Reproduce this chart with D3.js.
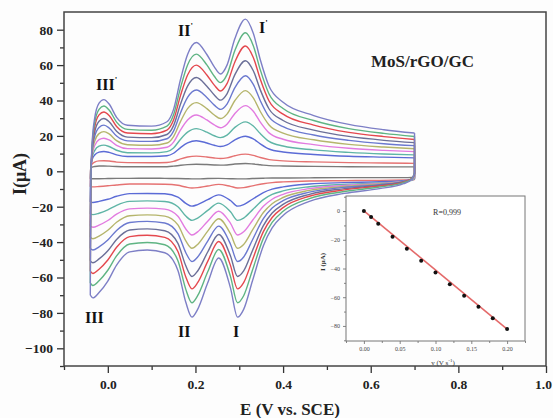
<!DOCTYPE html>
<html>
<head>
<meta charset="utf-8">
<title>MoS/rGO/GC cyclic voltammograms</title>
<script src="https://d3js.org/d3.v7.min.js"></script>
<style>
    body { margin: 0; background: #fff; }
    svg text { font-family: "Liberation Serif", "Times New Roman", serif; }
</style>
</head>
<body>
<div id="chart"></div>
<script>
    var cathodicE = [0.700, 0.694, 0.675, 0.620, 0.540, 0.460, 0.400, 0.375, 0.355, 0.330, 0.310, 0.296, 0.280,
        0.253, 0.228, 0.205, 0.192, 0.178, 0.160, 0.130, 0.090, 0.050, 0.020, 0.000, -0.020, -0.034, -0.040];
    var anodicE = [-0.039, -0.036, -0.030, -0.020, -0.009, 0.003, 0.020, 0.045, 0.100, 0.135, 0.150, 0.166, 0.182,
        0.202, 0.226, 0.243, 0.257, 0.272, 0.290, 0.314, 0.332, 0.348, 0.368, 0.400, 0.470, 0.550, 0.630, 0.700];

    // Current (uA), outermost (fastest scan) first
    var cath1 = [-1, -4.5, -7, -9.8, -12.5, -17, -25, -32, -42, -62, -78, -82.4, -66, -49, -63, -78, -82.4, -74, -56, -46, -44.5, -45.5, -53, -62, -68.5, -71.5, -70];
    var cath2 = [-1, -4.2, -6.4, -8.9, -11.4, -15.4, -22.6, -28.9, -37.9, -55.9, -70.3, -74.3, -59.5, -44.2, -56.8, -70.3, -74.3, -66.7, -50.5, -41.5, -40.2, -41.1, -47.8, -55.9, -61.8, -64.5, -63.1];
    var cath3 = [-1.3, -4.1, -6.1, -8.3, -10.5, -14.1, -20.5, -26.1, -34.1, -50.1, -62.9, -66.4, -53.3, -39.7, -50.9, -62.9, -66.4, -59.7, -45.3, -37.3, -36.1, -36.9, -42.9, -50.1, -55.3, -57.7, -56.5];
    var cath4 = [-1.6, -4.1, -5.9, -7.9, -9.8, -13, -18.7, -23.6, -30.7, -44.9, -56.3, -59.4, -47.8, -35.7, -45.6, -56.3, -59.4, -53.4, -40.7, -33.6, -32.5, -33.2, -38.5, -44.9, -49.5, -51.7, -50.6];
    var cath5 = [-2.2, -4.3, -5.8, -7.5, -9.1, -11.8, -16.6, -20.8, -26.8, -38.8, -48.4, -51, -41.2, -31, -39.4, -48.4, -51, -46, -35.2, -29.2, -28.3, -28.9, -33.4, -38.8, -42.7, -44.5, -43.6];
    var cath6 = [-2.8, -4.6, -5.8, -7.2, -8.6, -10.8, -14.8, -18.3, -23.3, -33.3, -41.3, -43.5, -35.3, -26.8, -33.8, -41.3, -43.5, -39.3, -30.3, -25.3, -24.6, -25.1, -28.8, -33.3, -36.6, -38.1, -37.3];
    var cath7 = [-3.4, -4.8, -5.8, -6.9, -8, -9.8, -13, -15.8, -19.8, -27.8, -34.2, -36, -29.4, -22.6, -28.2, -34.2, -36, -32.6, -25.4, -21.4, -20.8, -21.2, -24.2, -27.8, -30.4, -31.6, -31];
    var cath8 = [-4.1, -5.1, -5.8, -6.6, -7.4, -8.7, -11.1, -13.1, -16, -21.8, -26.4, -27.7, -22.9, -18, -22.1, -26.4, -27.7, -25.3, -20, -17.1, -16.7, -17, -19.2, -21.8, -23.7, -24.5, -24.1];
    var cath9 = [-4.2, -4.9, -5.3, -5.9, -6.4, -7.2, -8.8, -10.1, -12, -15.8, -18.8, -19.7, -16.5, -13.3, -16, -18.8, -19.7, -18.1, -14.6, -12.7, -12.5, -12.6, -14.1, -15.8, -17, -17.6, -17.3];
    var cath10 = [-4.6, -4.8, -4.9, -5.1, -5.3, -5.5, -6, -6.4, -7, -8.2, -9.2, -9.4, -8.5, -7.4, -8.3, -9.2, -9.4, -8.9, -7.9, -7.3, -7.2, -7.2, -7.7, -8.2, -8.6, -8.8, -8.7];
    var cath11 = [-3.5, -3.5, -3.6, -3.6, -3.6, -3.7, -3.8, -3.8, -3.9, -4.1, -4.3, -4.3, -4.2, -4, -4.1, -4.3, -4.3, -4.2, -4.1, -4, -3.9, -4, -4, -4.1, -4.2, -4.2, -4.2];

    var anod1 = [-10, 15, 30, 38.5, 40.5, 38, 30.5, 26, 25.5, 28, 35, 52, 66, 72.8, 66, 59, 55, 60, 75, 86, 78, 63, 48, 39, 31.5, 26.5, 23.5, 21.6];
    var anod2 = [-9.1, 13.7, 27.3, 35, 36.9, 34.6, 27.8, 23.7, 23.2, 25.5, 31.9, 47.3, 60.1, 66.2, 60.1, 53.7, 50.1, 54.6, 68.3, 78.3, 71, 57.3, 43.7, 35.5, 28.7, 24.1, 21.4, 19.7];
    var anod3 = [-7.9, 12.6, 24.9, 31.9, 33.5, 31.5, 25.3, 21.6, 21.2, 23.3, 29, 42.9, 54.4, 60, 54.4, 48.7, 45.4, 49.5, 61.8, 70.8, 64.3, 52, 39.7, 32.3, 26.1, 22, 19.6, 18];
    var anod4 = [-6.6, 11.4, 22.2, 28.3, 29.8, 28, 22.6, 19.3, 19, 20.8, 25.8, 38, 48.1, 53, 48.1, 43.1, 40.2, 43.8, 54.6, 62.5, 56.8, 46, 35.2, 28.7, 23.3, 19.7, 17.5, 16.2];
    var anod5 = [-4.9, 10.4, 19.6, 24.8, 26.1, 24.5, 19.9, 17.2, 16.9, 18.4, 22.7, 33.1, 41.7, 45.9, 41.7, 37.4, 35, 38, 47.3, 54, 49.1, 39.9, 30.7, 25.2, 20.5, 17.5, 15.6, 14.5];
    var anod6 = [-3.4, 9.4, 17, 21.3, 22.4, 21.1, 17.3, 15, 14.7, 16, 19.6, 28.2, 35.4, 38.8, 35.4, 31.8, 29.8, 32.3, 40, 45.6, 41.5, 33.8, 26.2, 21.6, 17.8, 15.2, 13.7, 12.7];
    var anod7 = [-1.8, 8.4, 14.5, 17.9, 18.7, 17.7, 14.7, 12.8, 12.6, 13.6, 16.5, 23.4, 29, 31.8, 29, 26.2, 24.6, 26.6, 32.7, 37.1, 33.9, 27.8, 21.7, 18.1, 15.1, 13, 11.8, 11.1];
    var anod8 = [0.1, 7.4, 11.7, 14.2, 14.8, 14, 11.9, 10.5, 10.4, 11.1, 13.2, 18.1, 22.1, 24.1, 22.1, 20.1, 19, 20.4, 24.8, 27.9, 25.6, 21.3, 16.9, 14.3, 12.1, 10.7, 9.8, 9.3];
    var anod9 = [1.6, 6.4, 9.2, 10.8, 11.2, 10.7, 9.3, 8.4, 8.4, 8.8, 10.2, 13.4, 16, 17.3, 16, 14.7, 14, 14.9, 17.8, 19.8, 18.3, 15.5, 12.6, 10.9, 9.5, 8.5, 8, 7.6];
    var anod10 = [2, 4, 5.2, 5.9, 6, 5.8, 5.2, 4.9, 4.8, 5, 5.6, 7, 8.1, 8.6, 8.1, 7.5, 7.2, 7.6, 8.8, 9.7, 9, 7.8, 6.6, 5.9, 5.3, 4.9, 4.7, 4.5];
    var anod11 = [1.5, 2.3, 2.7, 3, 3, 2.9, 2.7, 2.6, 2.6, 2.6, 2.9, 3.4, 3.8, 4, 3.8, 3.6, 3.5, 3.6, 4.1, 4.4, 4.1, 3.7, 3.2, 3, 2.8, 2.6, 2.5, 2.5];

    var cathodicSeries = [cath1, cath2, cath3, cath4, cath5, cath6, cath7, cath8, cath9, cath10, cath11];
    var anodicSeries = [anod1, anod2, anod3, anod4, anod5, anod6, anod7, anod8, anod9, anod10, anod11];
    var curveColors = ['#7d7fc6', '#5fb483', '#e4484e', '#6b6f98', '#6b79cf', '#b5b56c',
        '#e27be0', '#5fb5a6', '#5b6bd6', '#e57272', '#7a7a7a'];

    // Inset: peak current vs scan rate
    var insetRate = [0, 0.01, 0.02, 0.04, 0.06, 0.08, 0.10, 0.12, 0.14, 0.16, 0.18, 0.20];
    var insetCurrent = [0, -4.2, -8.8, -17.9, -26.3, -34.6, -42.7, -51, -59, -66.7, -74.6, -82.2];
    var fitRate = [0, 0.20];
    var fitCurrent = [0.2, -82.3];

    var xTicks = [0.0, 0.2, 0.4, 0.6, 0.8, 1.0];
    var yTicks = [-100, -80, -60, -40, -20, 0, 20, 40, 60, 80];

    var margin = { top: 12, right: 7, bottom: 52, left: 64 };
    var width = 553 - margin.left - margin.right;
    var height = 418 - margin.top - margin.bottom;

    var svg = d3.select('#chart')
        .append('svg')
        .attr('width', 553)
        .attr('height', 418);

    svg.append('rect').attr('width', 553).attr('height', 418).attr('fill', '#fdfdfd');

    var g = svg.append('g')
        .attr('transform', 'translate(' + margin.left + ',' + margin.top + ')');

    var x = d3.scaleLinear().domain([-0.1, 1.0]).range([0, width]);
    var y = d3.scaleLinear().domain([-110, 90]).range([height, 0]);

    var line = d3.line()
        .x(function(d) { return x(d[0]); })
        .y(function(d) { return y(d[1]); })
        .curve(d3.curveMonotoneX);
    var straight = d3.line()
        .x(function(d) { return x(d[0]); })
        .y(function(d) { return y(d[1]); });

    // draw inner sweeps first so the big ones sit on top
    for (var i = cathodicSeries.length - 1; i >= 0; i--) {
        var cath = cathodicSeries[i], anod = anodicSeries[i];
        var n = cath.length;
        // cathodic sweep, reversed so x runs left to right
        var cathPts = cathodicE.map(function(e, j) { return [e, cath[j]]; }).reverse();
        // anodic sweep starts where the cathodic one stopped
        var anodPts = [[cathodicE[n - 1], cath[n - 1]]]
            .concat(anodicE.map(function(e, j) { return [e, anod[j]]; }));
        var turn = [[anodicE[anodicE.length - 1], anod[anod.length - 1]], [cathodicE[0], cath[0]]];

        var c = g.append('g')
            .attr('fill', 'none')
            .attr('stroke', curveColors[i])
            .attr('stroke-width', 1.4)
            .attr('stroke-linejoin', 'round');
        c.append('path').datum(cathPts).attr('d', line);
        c.append('path').datum(anodPts).attr('d', line);
        c.append('path').datum(turn).attr('d', straight);
    }

    // axes
    function styleAxis(sel) {
        sel.select('.domain').remove();
        sel.selectAll('line').attr('stroke', '#333').attr('stroke-width', 1.3);
        sel.selectAll('text')
            .attr('font-size', '13.5px')
            .attr('font-weight', 'bold')
            .attr('fill', '#222');
    }

    g.append('g')
        .attr('transform', 'translate(0,' + height + ')')
        .call(d3.axisBottom(x).tickValues([-0.1, 0.1, 0.3, 0.5, 0.7, 0.9]).tickSize(4).tickFormat(''))
        .call(styleAxis);

    var xAxis = g.append('g')
        .attr('transform', 'translate(0,' + height + ')')
        .call(d3.axisBottom(x).tickValues(xTicks).tickSize(7).tickPadding(6).tickFormat(d3.format('.1f')))
        .call(styleAxis);
    // keep the last label inside the picture
    xAxis.selectAll('.tick').filter(function(d) { return d === 1.0; })
        .select('text').attr('dx', -3);

    g.append('g')
        .call(d3.axisLeft(y).tickValues([-110, -90, -70, -50, -30, -10, 10, 30, 50, 70]).tickSize(4).tickFormat(''))
        .call(styleAxis);

    g.append('g')
        .call(d3.axisLeft(y).tickValues(yTicks).tickSize(7).tickPadding(4))
        .call(styleAxis);

    g.append('rect')
        .attr('width', width)
        .attr('height', height)
        .attr('fill', 'none')
        .attr('stroke', '#444')
        .attr('stroke-width', 1.5);

    // axis titles
    svg.append('text')
        .attr('transform', 'translate(26,174) rotate(-90)')
        .attr('text-anchor', 'middle')
        .attr('font-size', '18px')
        .attr('font-weight', 'bold')
        .attr('fill', '#222')
        .text('I(\u03bcA)');

    svg.append('text')
        .attr('x', 290)
        .attr('y', 415)
        .attr('text-anchor', 'middle')
        .attr('font-size', '17px')
        .attr('font-weight', 'bold')
        .attr('fill', '#222')
        .text('E (V vs. SCE)');

    // peak labels
    var peakLabels = [
        { t: 'III', p: true, x: 96, y: 90 },
        { t: 'II', p: true, x: 178, y: 36 },
        { t: 'I', p: true, x: 259, y: 33 },
        { t: 'III', p: false, x: 85, y: 323 },
        { t: 'II', p: false, x: 178, y: 337 },
        { t: 'I', p: false, x: 233, y: 337 }
    ];
    peakLabels.forEach(function(d) {
        var t = svg.append('text')
            .attr('x', d.x)
            .attr('y', d.y)
            .attr('font-size', '16px')
            .attr('font-weight', 'bold')
            .attr('fill', '#111')
            .text(d.t);
        if (d.p) {
            t.append('tspan').attr('dy', -7).attr('font-size', '9px').text("'");
        }
    });

    svg.append('text')
        .attr('x', 371)
        .attr('y', 67)
        .attr('font-size', '17px')
        .attr('font-weight', 'bold')
        .attr('fill', '#222')
        .text('MoS/rGO/GC');

    // inset
    var ix = d3.scaleLinear().domain([-0.025, 0.225]).range([346, 525]);
    var iy = d3.scaleLinear().domain([-90.5, 10.5]).range([341, 196]);

    var inset = svg.append('g');
    inset.append('rect')
        .attr('x', 346).attr('y', 196)
        .attr('width', 179).attr('height', 145)
        .attr('fill', '#fff');

    function styleInset(sel) {
        sel.select('.domain').remove();
        sel.selectAll('line').attr('stroke', '#666').attr('stroke-width', 0.8);
        sel.selectAll('text').attr('font-size', '6px').attr('fill', '#444');
    }

    inset.append('g')
        .attr('transform', 'translate(0,341)')
        .call(d3.axisBottom(ix).tickValues([-0.025, 0.025, 0.075, 0.125, 0.175, 0.225]).tickSize(2).tickFormat(''))
        .call(styleInset);
    inset.append('g')
        .attr('transform', 'translate(0,341)')
        .call(d3.axisBottom(ix).tickValues([0, 0.05, 0.10, 0.15, 0.20]).tickSize(3).tickPadding(3).tickFormat(d3.format('.2f')))
        .call(styleInset);
    inset.append('g')
        .attr('transform', 'translate(346,0)')
        .call(d3.axisLeft(iy).tickValues([-90, -70, -50, -30, -10, 10]).tickSize(2).tickFormat(''))
        .call(styleInset);
    inset.append('g')
        .attr('transform', 'translate(346,0)')
        .call(d3.axisLeft(iy).tickValues([-80, -60, -40, -20, 0]).tickSize(3).tickPadding(3))
        .call(styleInset);

    inset.append('rect')
        .attr('x', 346).attr('y', 196)
        .attr('width', 179).attr('height', 145)
        .attr('fill', 'none')
        .attr('stroke', '#777')
        .attr('stroke-width', 1);

    inset.append('path')
        .datum(fitRate.map(function(r, k) { return [r, fitCurrent[k]]; }))
        .attr('fill', 'none')
        .attr('stroke', '#e46a6a')
        .attr('stroke-width', 1.6)
        .attr('d', d3.line().x(function(d) { return ix(d[0]); }).y(function(d) { return iy(d[1]); }));

    inset.selectAll('circle')
        .data(insetRate)
        .enter()
        .append('circle')
        .attr('cx', function(d) { return ix(d); })
        .attr('cy', function(d, k) { return iy(insetCurrent[k]); })
        .attr('r', 2)
        .attr('fill', '#111');

    inset.append('text')
        .attr('x', 447).attr('y', 215)
        .attr('text-anchor', 'middle')
        .attr('font-size', '8px')
        .attr('fill', '#333')
        .text('R=0,999');

    inset.append('text')
        .attr('transform', 'translate(325,262) rotate(-90)')
        .attr('text-anchor', 'middle')
        .attr('font-size', '7px')
        .attr('font-weight', 'bold')
        .attr('fill', '#333')
        .text('I (\u03bcA)');

    var vLabel = inset.append('text')
        .attr('x', 443).attr('y', 365)
        .attr('text-anchor', 'middle')
        .attr('font-size', '7px')
        .attr('fill', '#333')
        .text('v (V s');
    vLabel.append('tspan').attr('dy', -3).attr('font-size', '5px').text('-1');
    vLabel.append('tspan').attr('dy', 3).text(')');
</script>
</body>
</html>
